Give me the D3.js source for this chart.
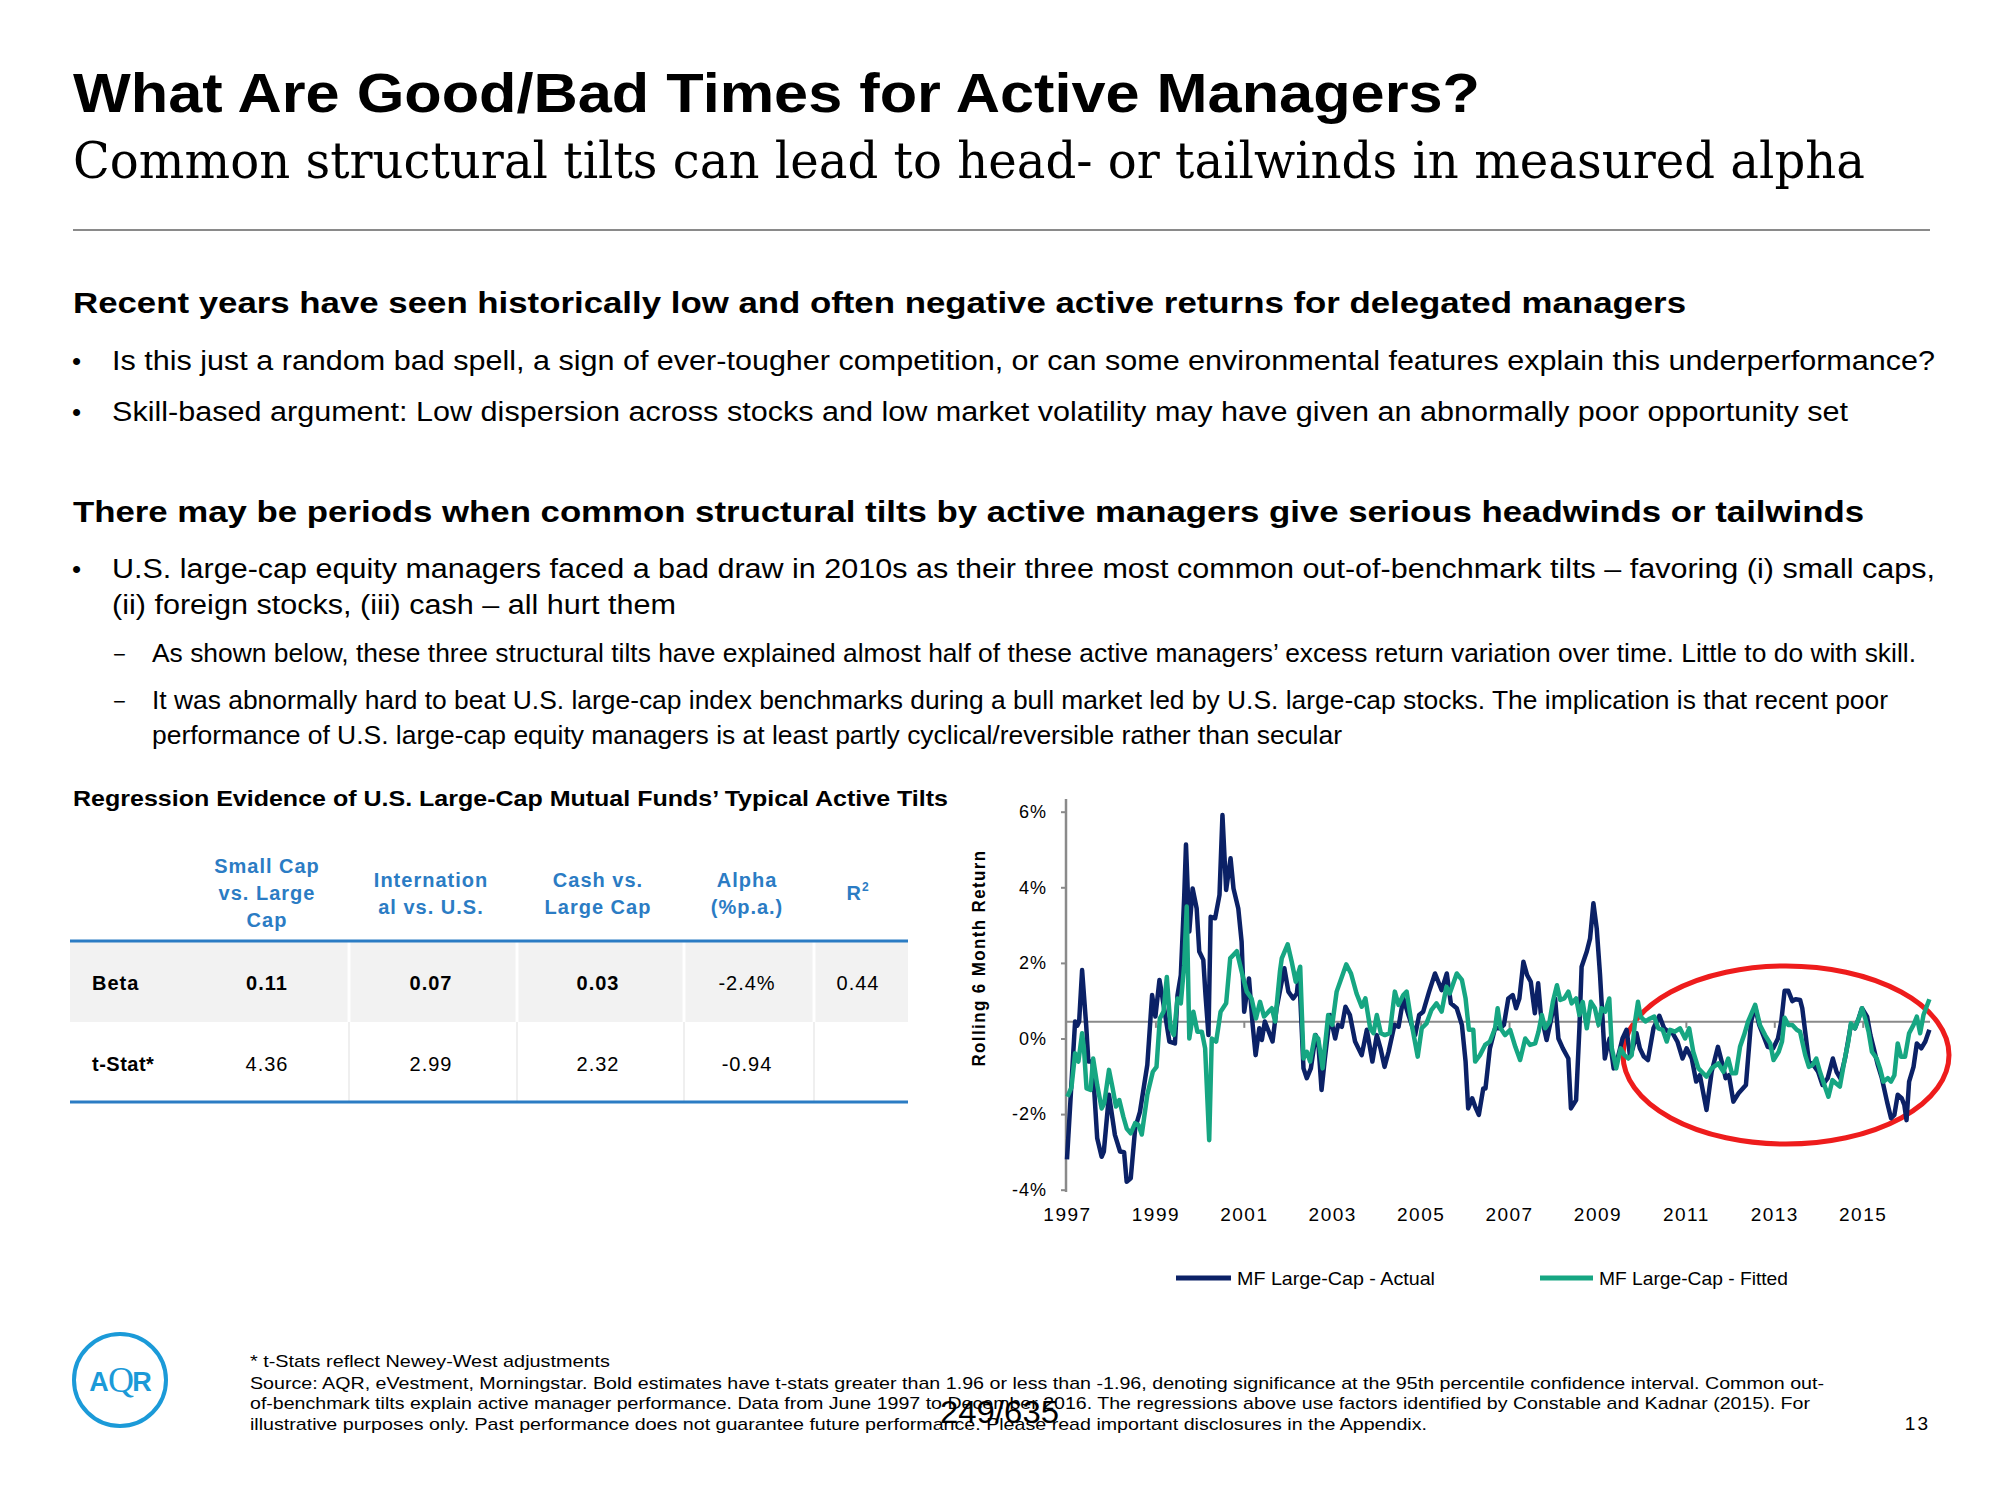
<!DOCTYPE html>
<html><head><meta charset="utf-8">
<script src="https://cdn.jsdelivr.net/npm/d3@7"></script>
<style>html,body{margin:0;padding:0;background:#fff;} svg{display:block;}</style>
</head><body><div id="chart"></div>
<script>
// ---------- DATA ----------
// x = months since June 1997 (first observation), y = rolling 6-month return (%)
const actualMonths = [0,2.2,2.8,3.3,4.1,5.2,5.8,6.9,8.2,9.4,10.0,11.4,13.0,14.4,15.5,16.2,17.3,18.5,19.8,21.8,23.1,24.0,25.1,25.8,27.8,29.3,30.0,30.9,31.8,32.3,33.2,34.1,35.2,35.9,37.0,37.6,38.4,39.0,40.2,41.4,42.2,43.2,44.4,45.2,46.5,47.4,48.1,49.4,50.4,51.2,52.2,52.9,53.7,55.8,56.9,
 59.0,60.1,61.4,62.4,63.0,64.2,65.1,66.2,67.5,68.2,69.1,70.0,71.4,72.8,73.6,74.6,75.6,76.8,78.2,80.0,81.4,82.9,84.1,85.1,86.2,87.3,88.9,90.0,91.3,92.7,94.5,95.6,96.7,98.3,99.9,101.7,103.1,104.2,105.8,107.2,108.2,108.9,110.0,110.8,111.8,113.0,113.6,114.8,
 116.2,117.6,118.6,119.8,121.0,121.9,122.8,123.9,124.9,125.9,127.0,127.9,128.6,130.2,131.3,132.5,133.4,134.6,136.1,136.8,138.2,139.1,139.7,141.1,142.0,142.9,143.8,144.7,146.0,146.6,147.3,148.4,149.7,150.8,151.9,152.8,153.6,154.6,155.5,156.6,157.7,159.2,160.8,162.1,163.3,164.4,165.7,167.1,168.2,169.6,170.8,171.8,173.6,
 175.0,176.7,178.2,178.8,179.7,180.9,182.3,184.3,185.7,186.8,187.9,189.0,190.2,191.7,193.0,193.9,194.8,195.8,196.9,197.8,199.0,199.6,200.5,201.4,202.6,203.9,205.1,206.5,207.9,208.9,209.9,211.2,212.8,213.9,214.9,215.8,217.2,218.1,219.0,220.1,221.2,222.6,223.7,224.6,225.5,226.6,227.3,227.9,228.6,229.8,230.7,231.9,233.0,234.1];
const actualValues = [-3.2,0.45,0.34,0.45,1.81,0.36,-0.61,-0.61,-2.64,-3.13,-2.99,-1.49,-2.55,-2.99,-3.01,-3.79,-3.70,-2.38,-1.94,-0.70,1.15,0.58,1.55,1.15,-0.08,-0.13,1.15,1.68,3.71,5.13,2.83,3.97,3.44,2.30,2.08,1.15,0.09,3.22,3.18,3.80,5.91,3.93,4.77,3.97,3.44,2.56,0.71,1.59,0.36,-0.44,0.27,-0.04,0.45,-0.08,0.80,
 1.86,1.24,1.06,1.19,1.77,-0.79,-1.05,-0.79,0.09,-0.08,-1.36,-0.53,0.62,0.0,0.36,0.31,0.84,0.62,-0.08,-0.44,0.23,-0.61,0.09,-0.26,-0.75,-0.35,0.36,0.31,1.06,0.62,0.09,0.62,0.71,1.24,1.72,1.28,1.72,0.93,0.80,0.36,-0.61,-1.85,-1.58,-1.80,-2.02,-1.32,-1.32,-0.26,
 0.27,0.27,0.36,1.06,1.15,0.80,1.06,2.03,1.68,1.50,0.67,1.46,0.67,-0.04,0.45,1.06,0.0,-0.26,-0.53,-1.85,-1.63,0.27,1.90,2.30,2.65,3.58,2.91,1.68,-0.53,-0.26,0.0,-0.79,-0.44,0.0,0.23,-0.44,-0.26,0.14,-0.26,-0.48,-0.57,0.27,0.60,0.27,0.18,0.14,-0.08,-0.53,-0.26,-0.53,-1.14,-0.97,-1.89,
 -0.88,-0.22,-0.79,-1.05,-0.97,-1.67,-1.45,-1.23,0.45,0.84,0.36,0.09,-0.22,-0.26,0.0,0.45,1.26,1.26,0.99,1.04,1.02,0.80,0.09,-0.61,-0.70,-0.88,-1.23,-1.05,-0.53,-0.88,-1.05,-0.53,0.36,0.27,0.53,0.80,0.58,0.09,-0.26,-0.70,-1.05,-1.67,-2.11,-2.02,-1.49,-1.58,-1.76,-2.16,-1.14,-0.75,-0.13,-0.26,-0.08,0.23];

const fittedMonths = [0.1,1.2,2.2,3.1,4.1,4.6,5.3,6.4,7.1,8.2,9.4,10.1,11.4,12.4,13.3,14.2,15.3,16.2,17.3,18.5,19.4,20.3,21.8,23.3,24.3,25.2,26.2,27.1,28.1,29.0,30.0,30.9,31.8,32.5,33.2,34.3,35.4,36.6,37.5,38.6,39.3,40.5,41.7,43.2,44.3,46.1,47.4,48.8,50.1,51.3,52.4,53.5,54.7,55.6,56.5,57.8,
 58.3,59.9,61.0,62.1,63.3,64.2,65.1,66.0,67.3,68.2,69.4,70.9,72.0,73.2,74.6,75.8,77.1,78.6,80.0,81.0,82.3,83.2,84.1,85.2,86.3,87.6,89.0,90.0,91.3,92.2,93.6,95.2,96.3,97.6,98.9,100.3,101.7,103.0,103.9,105.8,107.2,108.2,109.1,110.3,110.8,112.1,113.5,114.8,
 116.2,116.9,117.7,118.9,120.3,121.7,123.0,124.4,125.7,127.1,128.0,128.9,129.8,131.0,131.9,133.0,133.9,135.0,136.1,137.0,138.2,139.1,140.0,141.1,142.2,143.3,144.3,145.1,146.1,147.2,147.9,149.1,150.3,151.3,152.4,153.3,154.2,155.0,155.7,157.0,158.3,159.4,160.5,161.7,162.8,163.7,165.0,166.4,167.8,168.9,170.0,171.4,172.7,173.6,175.0,
 176.8,178.2,179.5,180.5,181.6,182.7,183.8,184.9,186.8,188.1,189.5,190.9,191.8,193.2,194.1,194.8,195.8,196.9,198.1,199.0,200.4,201.4,202.4,203.4,204.4,205.6,206.7,207.8,208.8,209.8,211.0,212.1,212.8,213.9,215.1,215.8,216.7,217.6,218.5,219.8,220.7,221.6,222.8,223.7,224.6,225.5,226.4,227.5,228.6,229.8,230.7,231.6,232.5,234.1];
const fittedValues = [-1.54,-1.30,-0.39,-0.61,0.14,-0.26,-1.32,-1.36,-0.53,-1.23,-1.85,-1.72,-0.83,-1.32,-1.80,-1.63,-2.07,-2.38,-2.51,-2.24,-2.29,-2.54,-1.49,-0.88,-0.75,0.53,0.71,1.63,0.27,0.09,1.06,0.93,1.94,3.49,0.0,0.71,0.18,0.18,-0.26,-2.69,0.0,-0.08,0.71,0.93,2.12,2.31,1.77,1.24,1.06,0.53,0.97,0.58,0.71,0.80,0.45,1.77,
 2.12,2.49,2.03,1.50,1.90,-0.53,-0.35,-0.61,0.09,0.0,-0.79,0.62,0.36,1.24,1.63,1.96,1.72,1.19,0.84,1.06,0.27,0.14,0.62,0.14,0.09,0.14,1.24,0.89,1.15,1.24,0.36,-0.48,0.27,0.40,0.75,0.93,0.71,1.37,1.19,1.72,1.55,1.06,0.23,0.23,-0.61,-0.44,-0.17,-0.08,
 0.27,0.80,0.27,0.09,0.23,-0.22,-0.57,0.0,-0.17,-0.13,0.18,0.62,0.27,0.45,0.97,1.41,1.02,1.06,1.24,0.93,1.06,0.62,0.97,0.27,0.97,0.80,0.36,0.80,0.71,1.06,-0.26,-0.79,-0.26,-0.44,-0.53,-0.44,0.45,0.97,0.58,0.45,0.53,0.58,0.27,0.23,-0.08,0.23,0.18,0.27,0.0,0.27,-0.35,-0.79,-0.92,-1.01,-0.79,
 -0.66,-0.88,-0.53,-0.92,-0.92,-0.22,0.09,0.45,0.89,0.36,0.09,-0.13,-0.57,-0.35,-0.08,0.55,0.36,0.36,0.23,0.18,-0.44,-0.75,-0.70,-0.53,-0.88,-1.23,-1.54,-1.10,-1.19,-1.27,-0.61,-0.08,0.40,0.27,0.58,0.80,0.53,0.18,-0.35,-0.53,-0.79,-1.14,-1.05,-1.14,-0.97,-0.13,-0.48,-0.48,0.14,0.36,0.58,0.14,0.62,1.04];

const seriesNames = ["MF Large-Cap - Actual", "MF Large-Cap - Fitted"];
const xTickMonths = [0,24,48,72,96,120,144,168,192,216];
const xTickLabels = ["1997","1999","2001","2003","2005","2007","2009","2011","2013","2015"];
const yTickValues = [-4,-2,0,2,4,6];
const baselineValue = 0.44;   // horizontal reference line of the chart

// table
const tableTitle = "Regression Evidence of U.S. Large-Cap Mutual Funds\u2019 Typical Active Tilts";
const tableHeaders = [["Small Cap","vs. Large","Cap"],["Internation","al vs. U.S."],["Cash vs.","Large Cap"],["Alpha","(%p.a.)"],["R"]];
const rowLabels = ["Beta","t-Stat*"];
const betaRow = ["0.11","0.07","0.03","-2.4%","0.44"];
const betaBold = [true,true,true,false,false];
const tStatRow = ["4.36","2.99","2.32","-0.94",""];

// ---------- DRAW ----------
const SANS = "'Liberation Sans Narrow','Liberation Sans',Arial,sans-serif";
const SANSR = "'Liberation Sans',Arial,sans-serif";
const SERIF = "'DejaVu Serif','Liberation Serif',Georgia,serif";
const NAVY = "#0b2166", TEAL = "#16a682", BLUE = "#2b7cc4", GREY = "#8a8a8a";

const svg = d3.select("#chart").append("svg").attr("width",2000).attr("height",1500);

function txt(x, y, s, o) {
  o = o || {};
  const t = svg.append("text").attr("x", x).attr("y", y).text(s)
    .attr("font-family", o.family || SANS).attr("font-size", o.size || 20)
    .attr("font-weight", o.weight || 400).attr("fill", o.fill || "#000")
    .attr("text-anchor", o.anchor || "start");
  if (o.len) t.attr("textLength", o.len).attr("lengthAdjust", "spacingAndGlyphs");
  if (o.ls) t.attr("letter-spacing", o.ls);
  return t;
}

// Header
txt(73, 112, "What Are Good/Bad Times for Active Managers?", {size:56, weight:700, len:1407});
txt(73, 178, "Common structural tilts can lead to head- or tailwinds in measured alpha", {size:50, family:SERIF, len:1792});
svg.append("line").attr("x1",73).attr("x2",1930).attr("y1",230).attr("y2",230).attr("stroke",GREY).attr("stroke-width",2);

// Body text
txt(73, 313, "Recent years have seen historically low and often negative active returns for delegated managers", {size:29, weight:700, len:1613});
txt(72, 370, "\u2022", {size:26, family:SANSR});
txt(112, 370, "Is this just a random bad spell, a sign of ever-tougher competition, or can some environmental features explain this underperformance?", {size:27, len:1823});
txt(72, 421, "\u2022", {size:26, family:SANSR});
txt(112, 421, "Skill-based argument: Low dispersion across stocks and low market volatility may have given an abnormally poor opportunity set", {size:27, len:1736});
txt(73, 522, "There may be periods when common structural tilts by active managers give serious headwinds or tailwinds", {size:29, weight:700, len:1791});
txt(72, 578, "\u2022", {size:26, family:SANSR});
txt(112, 578, "U.S. large-cap equity managers faced a bad draw in 2010s as their three most common out-of-benchmark tilts \u2013 favoring (i) small caps,", {size:27, len:1823});
txt(112, 614, "(ii) foreign stocks, (iii) cash \u2013 all hurt them", {size:27, len:564});
txt(113, 662, "\u2212", {size:22, family:SANSR});
txt(152, 662, "As shown below, these three structural tilts have explained almost half of these active managers\u2019 excess return variation over time. Little to do with skill.", {size:25, len:1764});
txt(113, 709, "\u2212", {size:22, family:SANSR});
txt(152, 709, "It was abnormally hard to beat U.S. large-cap index benchmarks during a bull market led by U.S. large-cap stocks. The implication is that recent poor", {size:25, len:1736});
txt(152, 744, "performance of U.S. large-cap equity managers is at least partly cyclical/reversible rather than secular", {size:25, len:1190});

// ---------- TABLE ----------
txt(73, 806, tableTitle, {size:22, weight:700, len:875});
const colCenters = [267, 431, 598, 747, 858];
const colSeps = [349, 517, 684, 814];
const tLeft = 70, tRight = 908, hdrLine = 941, rowMid = 1022, tBottom = 1102;
svg.append("rect").attr("x",tLeft).attr("y",hdrLine).attr("width",tRight-tLeft).attr("height",rowMid-hdrLine).attr("fill","#f2f2f2");
colSeps.forEach(s => {
  svg.append("line").attr("x1",s).attr("x2",s).attr("y1",hdrLine).attr("y2",rowMid).attr("stroke","#fff").attr("stroke-width",3);
  svg.append("line").attr("x1",s).attr("x2",s).attr("y1",rowMid).attr("y2",tBottom).attr("stroke","#efefef").attr("stroke-width",2);
});
svg.append("line").attr("x1",tLeft).attr("x2",tRight).attr("y1",hdrLine).attr("y2",hdrLine).attr("stroke",BLUE).attr("stroke-width",3);
svg.append("line").attr("x1",tLeft).attr("x2",tRight).attr("y1",tBottom).attr("y2",tBottom).attr("stroke",BLUE).attr("stroke-width",3);
tableHeaders.forEach((lines, i) => {
  const n = lines.length, top = 893 - (n-1)*13.5;
  lines.forEach((l, j) => {
    const t = txt(colCenters[i], top + j*27 + 7, l, {size:20, weight:700, fill:BLUE, anchor:"middle", ls:1, family:SANSR});
    if (l === "R") t.append("tspan").attr("font-size",12).attr("dy",-9).text("2");
  });
});
txt(92, 990, rowLabels[0], {size:20, weight:700, family:SANSR, ls:1});
txt(92, 1071, rowLabels[1], {size:20, weight:700, family:SANSR, ls:0.5});
betaRow.forEach((v,i) => txt(colCenters[i], 990, v, {size:20, weight: betaBold[i]?700:400, anchor:"middle", family:SANSR, ls:1}));
tStatRow.forEach((v,i) => txt(colCenters[i], 1071, v, {size:20, anchor:"middle", family:SANSR, ls:1}));

// ---------- LINE CHART ----------
const x = d3.scaleLinear().domain([0, 234]).range([1067, 1929]);
const y = d3.scaleLinear().domain([-4, 6]).range([1189.7, 811.7]);

// red highlight ellipse (behind lines)
svg.append("ellipse").attr("cx",1786).attr("cy",1055).attr("rx",163).attr("ry",89)
  .attr("fill","none").attr("stroke","#ee1c1c").attr("stroke-width",5);

// y axis
const yAx = svg.append("g").attr("transform","translate(1066,0)")
  .call(d3.axisLeft(y).tickValues(yTickValues).tickSize(5).tickSizeOuter(0).tickPadding(14).tickFormat(d => d + "%"));
yAx.select(".domain").remove();
yAx.selectAll(".tick line").attr("stroke",GREY).attr("stroke-width",2);
yAx.selectAll(".tick text").attr("font-family",SANSR).attr("font-size",18).attr("letter-spacing",1).attr("fill","#000");
svg.append("line").attr("x1",1066).attr("x2",1066).attr("y1",799).attr("y2",1192).attr("stroke",GREY).attr("stroke-width",2.5);

// reference line with ticks
const xAx = svg.append("g").attr("transform",`translate(0,${y(baselineValue)})`)
  .call(d3.axisBottom(x).tickValues(xTickMonths.slice(1)).tickSize(6).tickSizeOuter(0).tickFormat(""));
xAx.select(".domain").attr("stroke",GREY).attr("stroke-width",2).attr("d", `M1066,0H1930`);
xAx.selectAll(".tick line").attr("stroke",GREY).attr("stroke-width",2);

// x labels
const xLab = svg.append("g").attr("transform","translate(0,1202)")
  .call(d3.axisBottom(x).tickValues(xTickMonths).tickSize(0).tickPadding(6).tickFormat((d,i) => xTickLabels[i]));
xLab.select(".domain").remove();
xLab.selectAll(".tick text").attr("font-family",SANSR).attr("font-size",19).attr("letter-spacing",1.5).attr("fill","#000");

// y label
svg.append("text").attr("transform","translate(985,958) rotate(-90)").attr("text-anchor","middle")
  .attr("font-family",SANSR).attr("font-size",18).attr("font-weight",700).attr("letter-spacing",1.5)
  .attr("textLength",217).attr("lengthAdjust","spacingAndGlyphs").text("Rolling 6 Month Return");

const line = d3.line().x(d => x(d[0])).y(d => y(d[1]));
const actual = actualMonths.map((m,i) => [m, actualValues[i]]);
const fitted = fittedMonths.map((m,i) => [m, fittedValues[i]]);
svg.append("path").datum(actual).attr("d",line).attr("fill","none").attr("stroke",NAVY).attr("stroke-width",4.5).attr("stroke-linejoin","round");
svg.append("path").datum(fitted).attr("d",line).attr("fill","none").attr("stroke",TEAL).attr("stroke-width",4.5).attr("stroke-linejoin","round");

// legend
const legend = [{x1:1176,x2:1231,tx:1237,len:198,c:NAVY},{x1:1540,x2:1593,tx:1599,len:189,c:TEAL}];
legend.forEach((l,i) => {
  svg.append("line").attr("x1",l.x1).attr("x2",l.x2).attr("y1",1278).attr("y2",1278).attr("stroke",l.c).attr("stroke-width",5);
  txt(l.tx, 1285, seriesNames[i], {size:19, family:SANSR, len:l.len});
});

// ---------- FOOTER ----------
const LOGO = "#1b9ad8";
svg.append("circle").attr("cx",120).attr("cy",1380).attr("r",46).attr("fill","none").attr("stroke",LOGO).attr("stroke-width",4);
txt(99, 1391, "A", {size:27, weight:700, family:SANSR, fill:LOGO, anchor:"middle"});
txt(121, 1392, "Q", {size:36, family:"'Liberation Serif',serif", fill:LOGO, anchor:"middle"});
txt(142, 1391, "R", {size:27, weight:700, family:SANSR, fill:LOGO, anchor:"middle"});

txt(250, 1367, "* t-Stats reflect Newey-West adjustments", {size:17, len:360});
txt(250, 1389, "Source: AQR, eVestment, Morningstar. Bold estimates have t-stats greater than 1.96 or less than -1.96, denoting significance at the 95th percentile confidence interval. Common out-", {size:17, len:1574});
txt(250, 1409, "of-benchmark tilts explain active manager performance. Data from June 1997 to December 2016. The regressions above use factors identified by Constable and Kadnar (2015). For", {size:17, len:1560});
txt(250, 1430, "illustrative purposes only. Past performance does not guarantee future performance. Please read important disclosures in the Appendix.", {size:17, len:1177});
txt(1930, 1430, "13", {size:19, family:SANSR, anchor:"end", ls:2});
txt(940, 1423, "249/635", {size:31, family:SANSR, len:119});
</script></body></html>
